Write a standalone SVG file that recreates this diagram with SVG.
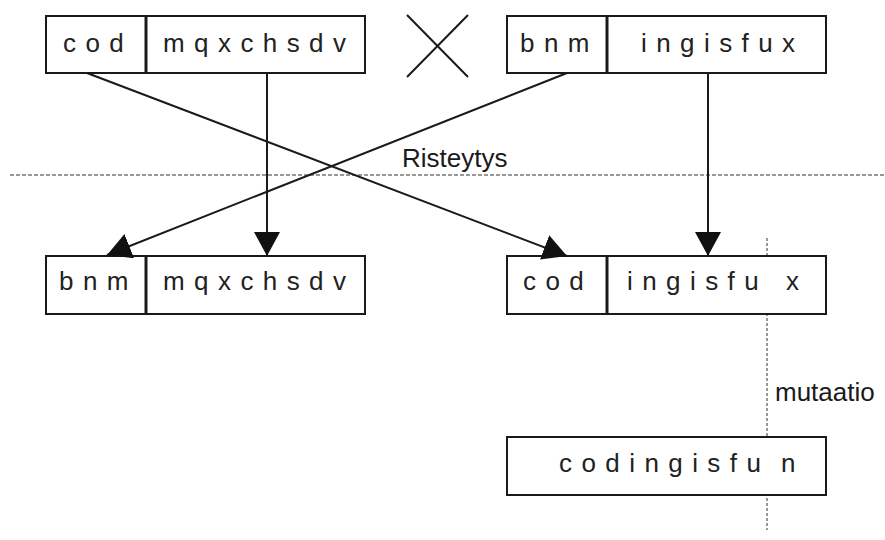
<svg xmlns="http://www.w3.org/2000/svg" width="885" height="540" viewBox="0 0 885 540">
  <style>
    .box { fill: #ffffff; stroke: #1a1a1a; stroke-width: 2; }
    .div { stroke: #1a1a1a; stroke-width: 3; }
    .gene { font-family: "Liberation Sans", Arial, sans-serif; font-size: 26px; fill: #222222; letter-spacing: 1.1px; }
    .label { font-family: "Liberation Sans", Arial, sans-serif; font-size: 26px; fill: #1a1a1a; }
    .edge { stroke: #1a1a1a; stroke-width: 2; fill: none; }
    .guide { stroke: #777777; stroke-width: 1.5; stroke-dasharray: 4 2; fill: none; }
    .guide-v { stroke: #777777; stroke-width: 1.5; stroke-dasharray: 3 2; fill: none; }
  </style>
  <defs>
    <marker id="arrow" viewBox="0 0 24 26" refX="24" refY="13" markerWidth="24" markerHeight="26" markerUnits="userSpaceOnUse" orient="auto">
      <path d="M0,0 L24,13 L0,26 Z" fill="#111111"/>
    </marker>
  </defs>

  <rect width="885" height="540" fill="#ffffff"/>

  <!-- crossover separator and mutation marker -->
  <g id="guides">
    <line class="guide" x1="10" y1="175" x2="885" y2="175"/>
    <line class="guide-v" x1="767" y1="238" x2="767" y2="530"/>
    <text class="label" x="402" y="167">Risteytys</text>
    <text class="label" x="775" y="401">mutaatio</text>
  </g>

  <!-- parent 1 -->
  <g id="parent1">
    <rect class="box" x="46" y="16" width="319" height="57"/>
    <line class="div" x1="146" y1="16" x2="146" y2="73"/>
    <text class="gene" x="63" y="52">c o d</text>
    <text class="gene" x="163" y="52">m q x c h s d v</text>
  </g>

  <!-- cross symbol -->
  <g id="cross">
    <line class="edge" x1="407" y1="15" x2="468" y2="77" stroke-width="1.5"/>
    <line class="edge" x1="468" y1="15" x2="407" y2="77" stroke-width="1.5"/>
  </g>

  <!-- parent 2 -->
  <g id="parent2">
    <rect class="box" x="507" y="16" width="319" height="57"/>
    <line class="div" x1="607" y1="16" x2="607" y2="73"/>
    <text class="gene" x="520" y="52">b n m</text>
    <text class="gene" x="641" y="52">i n g i s f u x</text>
  </g>

  <!-- offspring 1 -->
  <g id="child1">
    <rect class="box" x="46" y="256" width="319" height="58"/>
    <line class="div" x1="146" y1="256" x2="146" y2="314"/>
    <text class="gene" x="59" y="290">b n m</text>
    <text class="gene" x="163" y="290">m q x c h s d v</text>
  </g>

  <!-- offspring 2 -->
  <g id="child2">
    <rect class="box" x="507" y="256" width="319" height="58"/>
    <line class="div" x1="607" y1="256" x2="607" y2="314"/>
    <text class="gene" x="523" y="290">c o d</text>
    <text class="gene" x="627" y="290">i n g i s f u</text>
    <text class="gene" x="786" y="290">x</text>
  </g>

  <!-- mutated offspring -->
  <g id="mutant">
    <rect class="box" x="507" y="437" width="319" height="58"/>
    <text class="gene" x="559" y="472">c o d i n g i s f u</text>
    <text class="gene" x="781" y="472">n</text>
  </g>

  <g id="connectors">
    <line class="edge" x1="87" y1="73" x2="567" y2="256" marker-end="url(#arrow)"/>
    <line class="edge" x1="267" y1="73" x2="267" y2="256" marker-end="url(#arrow)"/>
    <line class="edge" x1="567" y1="73" x2="107" y2="255" marker-end="url(#arrow)"/>
    <line class="edge" x1="708" y1="73" x2="708" y2="256" marker-end="url(#arrow)"/>
  </g>
</svg>
